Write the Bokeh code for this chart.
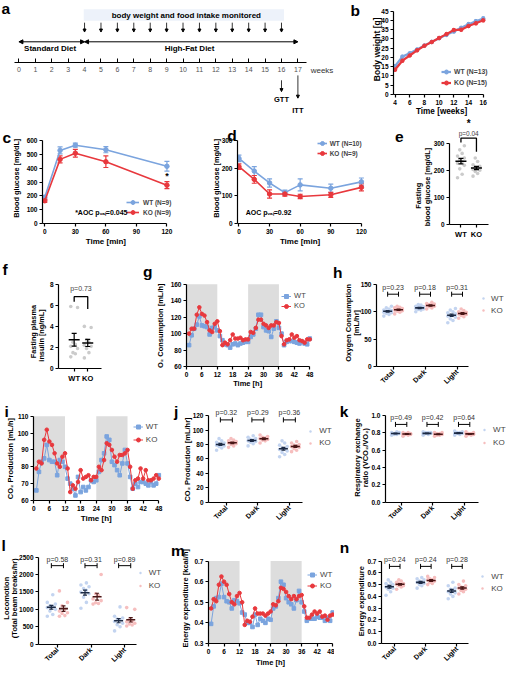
import math
import numpy as np
from bokeh.plotting import figure
from bokeh.models import (Range1d, FixedTicker, LinearAxis, Label, Legend, LegendItem, Whisker,
                          TeeHead, Arrow, NormalHead, ColumnDataSource, BoxAnnotation,
                          NumeralTickFormatter)
from bokeh.layouts import row, column
from bokeh.embed import file_html
from bokeh.resources import INLINE
from bokeh.core.properties import value

# ---------------- data ----------------
timeline_weeks = list(range(18))
monitor_weeks = list(range(4, 17))
diet_names = ["Standard Diet", "High-Fat Diet"]
diet_start = [0, 4]
diet_end = [4, 17]
test_names = ["GTT", "ITT"]
test_weeks = [16, 17]

bw_weeks = [4, 5, 6, 7, 8, 9, 10, 11, 12, 13, 14, 15, 16]
bw_wt = [15.2, 20.4, 22.2, 24.3, 26.4, 28.4, 30.4, 32.2, 34.0, 36.0, 38.0, 39.6, 41.0]
bw_wt_sem = [0.8, 0.6, 0.5, 0.5, 0.5, 0.5, 0.6, 0.6, 0.6, 0.7, 0.7, 0.8, 0.9]
bw_ko = [13.3, 18.2, 21.0, 23.8, 26.3, 28.3, 30.5, 32.6, 34.8, 35.0, 37.0, 38.5, 40.1]
bw_ko_sem = [0.7, 0.6, 0.5, 0.5, 0.5, 0.5, 0.6, 0.6, 0.7, 0.7, 0.7, 0.8, 0.8]

gtt_t = [0, 15, 30, 60, 120]
gtt_wt = [190, 530, 568, 535, 415]
gtt_wt_sem = [15, 25, 15, 22, 35]
gtt_ko = [165, 465, 510, 448, 278]
gtt_ko_sem = [12, 25, 28, 42, 25]

itt_t = [0, 15, 30, 45, 60, 90, 120]
itt_wt = [236, 190, 147, 112, 140, 128, 151]
itt_wt_sem = [12, 16, 15, 9, 22, 15, 14]
itt_ko = [206, 160, 107, 107, 98, 104, 131]
itt_ko_sem = [10, 14, 15, 8, 8, 9, 13]

fbg_wt = [172, 185, 205, 218, 226, 232, 238, 245, 252, 262, 275, 290]
fbg_ko = [178, 188, 195, 200, 203, 206, 210, 214, 220, 232, 245]

ins_wt = [1.1, 1.4, 1.5, 1.9, 2.1, 2.3, 2.5, 5.8, 5.9]
ins_ko = [1.0, 1.5, 1.9, 2.1, 2.2, 2.5, 2.7, 3.9, 4.0]

hours = list(range(1, 49))
dark_start = [0, 24]
dark_end = [12, 36]

o2_wt = [86, 98, 106, 111, 121, 110, 109, 108, 99, 107, 108, 104, 97, 92, 87, 86, 83, 87, 88, 86,
         88, 89, 90, 90, 96, 99, 106, 123, 123, 108, 104, 103, 96, 106, 115, 107, 100, 86, 90, 91,
         91, 90, 89, 88, 90, 88, 87, 94]
o2_ko = [100, 106, 106, 123, 132, 124, 122, 114, 104, 102, 112, 115, 103, 86, 89, 87, 92, 99, 94, 94,
         95, 92, 93, 93, 102, 101, 107, 117, 117, 112, 110, 107, 110, 110, 114, 113, 97, 87, 92, 93,
         99, 95, 97, 92, 91, 89, 93, 93]

co2_wt = [66, 77, 83, 85, 93, 84, 83, 83, 75, 84, 83, 80, 73, 70, 67, 63, 74, 65, 68, 66,
          68, 72, 71, 72, 77, 84, 88, 98, 96, 83, 81, 78, 75, 82, 90, 82, 74, 67, 70, 68,
          71, 71, 70, 69, 71, 69, 70, 75]
co2_ko = [79, 83, 82, 96, 102, 95, 93, 88, 82, 80, 86, 88, 79, 65, 69, 67, 71, 78, 73, 74,
          75, 72, 74, 74, 80, 78, 84, 94, 93, 90, 86, 83, 87, 87, 88, 90, 80, 67, 72, 73,
          79, 73, 78, 72, 72, 73, 75, 73]

ee_wt = [0.395, 0.48, 0.52, 0.525, 0.59, 0.525, 0.505, 0.50, 0.47, 0.51, 0.505, 0.495, 0.45, 0.44,
         0.40, 0.40, 0.38, 0.44, 0.39, 0.42, 0.41, 0.40, 0.42, 0.415, 0.47, 0.48, 0.52, 0.60, 0.585,
         0.52, 0.50, 0.49, 0.47, 0.51, 0.555, 0.50, 0.455, 0.41, 0.42, 0.42, 0.42, 0.43, 0.425,
         0.425, 0.41, 0.425, 0.41, 0.45]
ee_ko = [0.47, 0.515, 0.505, 0.585, 0.625, 0.60, 0.585, 0.54, 0.50, 0.49, 0.53, 0.545, 0.50, 0.39,
         0.41, 0.405, 0.43, 0.47, 0.445, 0.445, 0.445, 0.435, 0.445, 0.455, 0.49, 0.485, 0.505,
         0.57, 0.565, 0.55, 0.53, 0.515, 0.53, 0.515, 0.53, 0.535, 0.48, 0.425, 0.425, 0.44, 0.455,
         0.445, 0.455, 0.43, 0.435, 0.415, 0.435, 0.44]

phase_labels = ["Total", "Dark", "Light"]

vo2_wt = [[92, 95, 97, 98, 99, 100, 101, 102, 103, 105, 107, 110],
          [100, 103, 104, 105, 106, 107, 108, 109, 110, 112, 113],
          [80, 84, 87, 90, 92, 93, 94, 96, 98, 100, 103, 106]]
vo2_ko = [[96, 99, 101, 102, 103, 104, 105, 106, 107, 108, 110],
          [105, 107, 109, 110, 111, 112, 113, 114, 115, 117],
          [88, 91, 93, 95, 96, 97, 98, 99, 100, 102, 105]]
vo2_p = ["p=0.23", "p=0.18", "p=0.31"]

vco2_wt = [[72, 75, 77, 78, 79, 80, 81, 82, 83, 85, 88],
           [78, 81, 83, 84, 85, 86, 87, 88, 90, 92],
           [63, 66, 69, 71, 73, 74, 75, 77, 79, 82, 85]]
vco2_ko = [[76, 78, 80, 81, 82, 82, 83, 84, 85, 86, 88],
           [82, 85, 86, 87, 88, 89, 90, 91, 93],
           [70, 72, 74, 76, 77, 78, 79, 80, 82, 84]]
vco2_p = ["p=0.32", "p=0.29", "p=0.36"]

rer_wt = [[0.77, 0.78, 0.78, 0.79, 0.79, 0.79, 0.79, 0.80, 0.80, 0.81],
          [0.77, 0.78, 0.79, 0.79, 0.79, 0.80, 0.80, 0.80, 0.81],
          [0.77, 0.78, 0.79, 0.79, 0.79, 0.80, 0.80, 0.81, 0.82]]
rer_ko = [[0.76, 0.77, 0.78, 0.78, 0.78, 0.79, 0.79, 0.79, 0.80, 0.80],
          [0.76, 0.77, 0.77, 0.78, 0.78, 0.79, 0.79, 0.80, 0.80],
          [0.76, 0.77, 0.78, 0.78, 0.79, 0.79, 0.79, 0.80, 0.81]]
rer_p = ["p=0.49", "p=0.42", "p=0.64"]

loc_wt = [[800, 850, 950, 1000, 1050, 1080, 1100, 1150, 1200, 1420],
          [1030, 1200, 1350, 1450, 1500, 1550, 1600, 1650, 1700, 1760],
          [380, 500, 560, 600, 650, 700, 720, 750, 800, 1070]]
loc_ko = [[800, 820, 880, 900, 950, 1000, 1100, 1200, 1530],
          [1150, 1170, 1190, 1250, 1300, 1400, 1450, 2000],
          [520, 550, 580, 600, 640, 660, 700, 1000, 1050]]
loc_p = ["p=0.58", "p=0.31", "p=0.89"]

eex_wt = [[0.41, 0.44, 0.46, 0.47, 0.48, 0.48, 0.49, 0.50, 0.51, 0.52, 0.54],
          [0.47, 0.49, 0.50, 0.51, 0.52, 0.52, 0.53, 0.54, 0.55, 0.56],
          [0.38, 0.40, 0.42, 0.43, 0.44, 0.45, 0.46, 0.47, 0.49, 0.52]]
eex_ko = [[0.46, 0.48, 0.49, 0.49, 0.50, 0.50, 0.51, 0.51, 0.52, 0.53, 0.54],
          [0.50, 0.51, 0.52, 0.53, 0.54, 0.54, 0.55, 0.56, 0.57],
          [0.42, 0.44, 0.45, 0.46, 0.47, 0.47, 0.48, 0.49, 0.50, 0.53]]
eex_p = ["p=0.24", "p=0.24", "p=0.28"]

# ---------------- style / layout ----------------
PAGE_W, PAGE_H = 506, 669
REF_W, REF_H = 522, 685
SX = PAGE_W / REF_W
SY = PAGE_H / REF_H
ROWS = [(0, 120), (120, 258), (258, 406), (406, 546), (546, 685)]
FONT = "Liberation Sans"
WT_C = "#7ba4de"
KO_C = "#e8383d"
WT_PALE = "#bccfee"
KO_PALE = "#f5b7b7"
WT_DARK = "#1d2b45"
KO_DARK = "#4a1616"
GRAY_PT = "#cbcbcb"
SHADE = "#dddddd"
LETTER = 15.5
TICK = 6.5
ALAB = 7.5
A_X0, A_DX = 19.0, 16.93   # timeline: reference px of week 0, px per week


class Panel:
    def __init__(self, row_i, x0, x1, frame, xcal, ycal, xmin=None, ymin=None):
        y0, y1 = ROWS[row_i]
        fl, fr, ft, fb = frame
        L, R = round(x0 * SX), round(x1 * SX)
        T, B = round(y0 * SY), round(y1 * SY)
        FL, FR = round(fl * SX), round(fr * SX)
        FT, FB = round(ft * SY), round(fb * SY)
        self.FL, self.FB = FL, FB
        (a, xa), (b, xb) = xcal
        kx = (xb - xa) / (b - a)
        (c, yc), (d, yd) = ycal
        ky = (yd - yc) / (d - c)
        xs, xe = a + (FL / SX - xa) / kx, a + (FR / SX - xa) / kx
        ys, ye = c + (FB / SY - yc) / ky, c + (FT / SY - yc) / ky
        if xmin is not None:
            xs = min(xs, xmin - 1e-6 * abs(xe - xs))
        if ymin is not None:
            ys = min(ys, ymin - 1e-6 * abs(ye - ys))
        p = figure(width=R - L, height=B - T, x_range=Range1d(xs, xe), y_range=Range1d(ys, ye),
                   min_border_left=FL - L, min_border_right=R - FR,
                   min_border_top=FT - T, min_border_bottom=B - FB,
                   x_axis_type=None, y_axis_type=None,
                   output_backend="svg", toolbar_location=None)
        p.frame_align = False
        p.outline_line_color = None
        p.background_fill_color = "white"
        p.border_fill_color = "white"
        self.p = p

    def legend(self, items, gx, cy0, rh, gw, lx, size, bold):
        n = len(items)
        bottom = cy0 - rh / 2 + n * rh
        h = round(rh * SY)
        leg = Legend(items=[LegendItem(label=l, renderers=r) for l, r in items],
                     location=(gx * SX - self.FL, self.FB - bottom * SY),
                     padding=0, margin=0, spacing=0, border_line_color=None,
                     background_fill_alpha=0, glyph_width=round(gw * SX), glyph_height=h,
                     label_height=h, label_standoff=round((lx - gx - gw) * SX),
                     label_text_font=FONT, label_text_font_size=f"{size}px",
                     label_text_font_style="bold" if bold else "normal")
        self.p.add_layout(leg)


def style_axis(ax, size=TICK, bold=True, color="black"):
    ax.axis_line_width = 1.2
    ax.axis_line_color = "black"
    ax.major_tick_line_width = 1.2
    ax.major_tick_line_color = "black"
    ax.major_tick_out = 3
    ax.major_tick_in = 0
    ax.minor_tick_line_color = None
    ax.major_label_text_font = FONT
    ax.major_label_text_font_size = f"{size}px"
    ax.major_label_text_font_style = "bold" if bold else "normal"
    ax.major_label_text_color = color
    ax.major_label_standoff = 2


def x_axis(P, ticks, end=None, labels=None, rotate=False, size=TICK, start=None):
    ax = LinearAxis(ticker=FixedTicker(ticks=ticks))
    style_axis(ax, size)
    if end is not None:
        ax.bounds = (P.p.x_range.start if start is None else start, end)
    if labels is not None:
        ax.major_label_overrides = {t: l for t, l in zip(ticks, labels)}
    if rotate:
        ax.major_label_orientation = math.pi / 4
        ax.major_label_standoff = 1
    P.p.add_layout(ax, "below")


def y_axis(P, ticks, end, fmt=None, size=TICK):
    ax = LinearAxis(ticker=FixedTicker(ticks=ticks))
    style_axis(ax, size)
    ax.bounds = (P.p.y_range.start, end)
    if fmt:
        ax.formatter = NumeralTickFormatter(format=fmt)
    P.p.add_layout(ax, "left")


def whisker(P, x, lo, hi, color, head, lw=1.2, level="underlay"):
    src = ColumnDataSource(dict(x=x, l=lo, u=hi))
    P.p.add_layout(Whisker(source=src, base="x", lower="l", upper="u", line_color=color,
                           line_width=lw, level=level,
                           upper_head=TeeHead(size=head, line_color=color, line_width=lw),
                           lower_head=TeeHead(size=head, line_color=color, line_width=lw)))


def curve(P, x, m, s, color, lw, size, head):
    whisker(P, x, [a - b for a, b in zip(m, s)], [a + b for a, b in zip(m, s)], color, head)
    r1 = P.p.line(x, m, color=color, line_width=lw)
    r2 = P.p.scatter(x, m, marker="circle", size=size, color=color)
    return [r1, r2]


def series(P, x, y, color, marker):
    r1 = P.p.line(x, y, color=color, line_width=1)
    r2 = P.p.scatter(x, y, marker=marker, size=3.6, color=color)
    return [r1, r2]


def shade(P, lo, hi):
    for a, b in zip(dark_start, dark_end):
        P.p.add_layout(BoxAnnotation(left=a, right=b, bottom=lo, top=hi, fill_color=SHADE,
                                     fill_alpha=1, line_color=None, level="underlay"))


def swarm(vals, w):
    pattern = [-1.0, 0.35, -0.35, 1.0]
    order = np.argsort(vals, kind="stable")
    offs = np.zeros(len(vals))
    for rank, i in enumerate(order):
        offs[i] = w * pattern[rank % 4]
    return offs


def stats(v):
    v = np.asarray(v, dtype=float)
    return float(v.mean()), float(v.std(ddof=1) / math.sqrt(len(v)))


def dotplot(P, wt, ko, off, w, dash, head):
    rends = []
    for sign, groups, pc, dc in [(-1, wt, WT_PALE, WT_DARK), (1, ko, KO_PALE, KO_DARK)]:
        xs, ys = [], []
        for g, vals in enumerate(groups):
            xs += [g + sign * off + o for o in swarm(vals, w)]
            ys += list(vals)
        r = P.p.scatter(xs, ys, size=3.6, color=pc, alpha=0.9, line_color=None)
        rends.append(r)
        mx = [g + sign * off for g in range(len(groups))]
        st = [stats(v) for v in groups]
        whisker(P, mx, [m - s for m, s in st], [m + s for m, s in st], dc, head, lw=1.2,
                level="overlay")
        P.p.scatter(mx, [m for m, s in st], marker="dash", size=dash, line_width=1.6, color=dc)
    return rends


def brackets(P, n, off, yb, yp, ptexts):
    src = ColumnDataSource(dict(y=[yb] * n, a=[g - off for g in range(n)],
                                b=[g + off for g in range(n)]))
    P.p.add_layout(Whisker(source=src, dimension="width", base="y", lower="a", upper="b",
                           line_color="black", line_width=1, level="overlay",
                           upper_head=TeeHead(size=5, line_color="black", line_width=1),
                           lower_head=TeeHead(size=5, line_color="black", line_width=1)))
    P.p.text(x=list(range(n)), y=[yp] * n, text=ptexts, text_align="center",
             text_baseline="middle", text_font=value(FONT), text_font_size="7px",
             text_color="#333333")


def dot_pair(P, wt, ko, w):
    for g, vals in enumerate([wt, ko]):
        P.p.scatter([g + o for o in swarm(vals, w)], vals, size=3.6, color=GRAY_PT,
                    line_color=None)
    st = [stats(wt), stats(ko)]
    whisker(P, [0, 1], [m - s for m, s in st], [m + s for m, s in st], "black", 5,
            level="overlay")
    P.p.scatter([0, 1], [m for m, s in st], marker="dash", size=11, line_width=1.5,
                color="black")


# ---------------- overlay (letters, axis titles, free texts) ----------------
ov = figure(width=PAGE_W, height=PAGE_H, x_range=Range1d(0, REF_W), y_range=Range1d(REF_H, 0),
            min_border=0, min_border_left=0, min_border_right=0, min_border_top=0,
            min_border_bottom=0, x_axis_type=None, y_axis_type=None,
            output_backend="svg", toolbar_location=None)
ov.frame_align = False
ov.outline_line_color = None
ov.background_fill_alpha = 0
ov.border_fill_alpha = 0
ov.margin = (-PAGE_H, 0, 0, 0)
ov.styles = {"margin-top": f"-{PAGE_H}px"}


def otext(s, x, y, size, bold=True, angle=0.0, align="center", baseline="middle",
          color="black"):
    ov.add_layout(Label(x=x, y=y, text=s, text_font=FONT, text_font_size=f"{size}px",
                        text_font_style="bold" if bold else "normal", text_color=color,
                        angle=angle, text_align=align, text_baseline=baseline))


def oy(s, x, y, size=ALAB):
    otext(s, x, y, size, angle=math.pi / 2)


def letter(ch, x, y):
    otext(ch, x, y, LETTER, align="left", baseline="alphabetic")


# ---------------- panel a: timeline ----------------
Pa = Panel(0, 0, 358, (0, 358, 0, 63.3), ((0, A_X0), (17, A_X0 + 17 * A_DX)), ((0, 0), (63.3, 63.3)))
pa = Pa.p
pa.quad(left=[monitor_weeks[0] - 0.05], right=[monitor_weeks[-1] + 0.15], top=[9], bottom=[20.7],
        color="#edf2fa", line_color=None)
pa.text(x=[(monitor_weeks[0] + monitor_weeks[-1]) / 2 + 0.2], y=[15],
        text=["body weight and food intake monitored"], text_align="center",
        text_baseline="middle", text_font=value(FONT), text_font_size="8px",
        text_font_style="bold")
msrc = ColumnDataSource(dict(x=monitor_weeks, y0=[22.7] * len(monitor_weeks),
                             y1=[32.3] * len(monitor_weeks)))
pa.add_layout(Arrow(source=msrc, x_start="x", y_start="y0", x_end="x", y_end="y1",
                    line_width=0.8, end=NormalHead(size=3, fill_color="black", line_color="black")))
for s, e in zip(diet_start, diet_end):
    pa.add_layout(Arrow(x_start=s, y_start=42.3, x_end=e, y_end=42.3, line_width=1,
                        start=NormalHead(size=4, fill_color="black", line_color="black"),
                        end=NormalHead(size=4, fill_color="black", line_color="black")))
pa.text(x=[(s + e) / 2 - 0.1 for s, e in zip(diet_start, diet_end)], y=[49.5] * 2, text=diet_names,
        text_align="center", text_baseline="middle", text_font=value(FONT),
        text_font_size="8px", text_font_style="bold")
tax = LinearAxis(ticker=FixedTicker(ticks=timeline_weeks), bounds=(-0.24, 17.5))
style_axis(tax, 7, bold=False, color="#555555")
tax.axis_line_width = 1
tax.major_tick_line_width = 1
tax.major_tick_in = 4
tax.major_tick_out = 0
tax.major_label_standoff = 4
pa.add_layout(tax, "below")
otext("weeks", 320, 71.7, 8, bold=False, align="left", color="#333333")
ov.add_layout(Arrow(source=ColumnDataSource(dict(
    x=[A_X0 + A_DX * w for w in test_weeks], y0=[81.7, 76.7], y1=[93.3, 100.0])),
    x_start="x", y_start="y0", x_end="x", y_end="y1", line_width=0.8,
    end=NormalHead(size=3, fill_color="black", line_color="black")))
for nm, w, yy in zip(test_names, test_weeks, [101.7, 112.5]):
    otext(nm, A_X0 + A_DX * w, yy, 7.5)
letter("a", 1, 8)

# ---------------- panel b ----------------
Pb = Panel(0, 358, 522, (405, 522, 0, 96), ((4, 407), (16, 498)), ((0, 96), (45, 11)), ymin=0)
x_axis(Pb, list(range(4, 17, 2)), end=16)
y_axis(Pb, list(range(0, 46, 5)), 45)
rb_wt = curve(Pb, bw_weeks, bw_wt, bw_wt_sem, WT_C, 2.2, 3.6, 3)
rb_ko = curve(Pb, bw_weeks, bw_ko, bw_ko_sem, KO_C, 2.2, 3.6, 3)
Pb.legend([("WT (N=13)", rb_wt), ("KO (N=15)", rb_ko)], 455, 72.7, 11.3, 10, 468.3, 6.8, True)
oy("Body weight [g]", 388.3, 50, 8.5)
otext("Time [weeks]", 455, 113.3, 8.2)
letter("b", 361, 10)

# ---------------- panel c ----------------
Pc = Panel(1, 0, 215, (43.6, 215, 120, 228.7), ((0, 45.7), (120, 171.7)), ((0, 228.7), (600, 143.7)),
           ymin=0)
x_axis(Pc, [0, 30, 60, 90, 120], end=120)
y_axis(Pc, list(range(0, 601, 100)), 600)
rc_wt = curve(Pc, gtt_t, gtt_wt, gtt_wt_sem, WT_C, 1.6, 4.5, 5)
rc_ko = curve(Pc, gtt_t, gtt_ko, gtt_ko_sem, KO_C, 1.6, 4.5, 5)
Pc.legend([("WT (N=9)", rc_wt), ("KO (N=9)", rc_ko)], 130, 207.3, 10, 13, 147, 6.5, True)
Pc.p.text(x=[gtt_t[-1]], y=[gtt_ko[-1] + gtt_ko_sem[-1] + 40], text=["*"], text_align="center",
          text_baseline="middle", text_font=value(FONT), text_font_size="9px",
          text_font_style="bold")
otext("*AOC p\u1d65\u2090\u2097=0.045", 77, 217.3, 7, align="left")
oy("Blood glucose [mg/dL]", 16.7, 182, 7.3)
otext("Time [min]", 108.7, 246.7, 8)
letter("c", 2, 140)

# ---------------- panel d ----------------
Pd = Panel(1, 215, 400, (244, 400, 120, 228.7), ((0, 246), (120, 372.3)), ((0, 228.7), (300, 143.7)),
           ymin=0)
x_axis(Pd, [0, 30, 60, 90, 120], end=120)
y_axis(Pd, [0, 100, 200, 300], 300)
rd_wt = curve(Pd, itt_t, itt_wt, itt_wt_sem, WT_C, 1.6, 4.5, 5)
rd_ko = curve(Pd, itt_t, itt_ko, itt_ko_sem, KO_C, 1.6, 4.5, 5)
Pd.legend([("WT (N=10)", rd_wt), ("KO (N=9)", rd_ko)], 326.7, 146, 10.7, 10, 340, 6.5, True)
otext("AOC p\u1d65\u2090\u2097=0.92", 253, 217.3, 7, align="left")
oy("Blood glucose [mg/dL]", 223.3, 182, 7.3)
otext("Time [min]", 309, 246.7, 8)
letter("d", 234, 138.5)

# ---------------- panel e ----------------
Pe = Panel(1, 400, 522, (463.3, 522, 120, 229.3), ((0, 475), (1, 491)), ((0, 229.3), (300, 146)),
           ymin=0)
x_axis(Pe, [0, 1], end=1.75, labels=["WT", "KO"], size=7.5)
y_axis(Pe, [0, 100, 200, 300], 300)
dot_pair(Pe, fbg_wt, fbg_ko, 0.22)
Pe.p.line(x=[0, 0, 1, 1], y=[302, 318, 318, 268], color="black", line_width=1.3)
Pe.p.text(x=[0.5], y=[337], text=["p=0.04"], text_align="center", text_baseline="middle",
          text_font=value(FONT), text_font_size="6.5px", text_color="#444444")
Pe.p.text(x=[0.5], y=[372], text=["*"], text_align="center", text_baseline="middle",
          text_font=value(FONT), text_font_size="10px", text_font_style="bold")
oy("Fasting", 431.7, 200, 7.3)
oy("blood glucose [mg/dL]", 440, 191, 7.3)
letter("e", 407, 140)

# ---------------- panel f ----------------
Pf = Panel(2, 0, 145, (60, 145, 258, 376.7), ((0, 76), (1, 90)), ((0, 376.7), (8, 290.7)), ymin=0)
x_axis(Pf, [0, 1], end=2.0, labels=["WT", "KO"], size=7.5)
y_axis(Pf, [0, 2, 4, 6, 8], 8)
dot_pair(Pf, ins_wt, ins_ko, 0.25)
Pf.p.line(x=[0, 0, 1, 1], y=[6.36, 6.83, 6.83, 5.65], color="black", line_width=1.3)
Pf.p.text(x=[0.5], y=[7.6], text=["p=0.73"], text_align="center", text_baseline="middle",
          text_font=value(FONT), text_font_size="7px", text_color="#444444")
oy("Fasting plasma", 34, 339, 7.3)
oy("insulin [ng/mL]", 42.5, 343, 7.3)
letter("f", 2, 275)

# ---------------- panel g ----------------
Pg = Panel(2, 145, 340, (191.7, 340, 258, 375), ((0, 191.7), (48, 319)), ((60, 375), (160, 290.7)),
           xmin=0, ymin=60)
shade(Pg, 60, 160)
x_axis(Pg, list(range(0, 49, 6)), end=48)
y_axis(Pg, list(range(60, 161, 20)), 160)
rg_wt = series(Pg, hours, o2_wt, WT_C, "square")
rg_ko = series(Pg, hours, o2_ko, KO_C, "circle")
Pg.legend([("WT", rg_wt), ("KO", rg_ko)], 290, 303.3, 10, 10, 303.3, 7.5, False)
oy("O\u2082 Consumption [mL/h]", 165.5, 333)
otext("Time [h]", 255, 391.7, ALAB)
letter("g", 147, 277)

# ---------------- panel h ----------------
Ph = Panel(2, 340, 522, (388.3, 522, 258, 375), ((0, 405), (1, 438)), ((0, 375), (150, 290.7)), ymin=0)
x_axis(Ph, [0, 1, 2], end=2.36, labels=phase_labels, rotate=True, size=7)
y_axis(Ph, [0, 50, 100, 150], 150)
rh = dotplot(Ph, vo2_wt, vo2_ko, 0.17, 0.12, 9, 4)
brackets(Ph, 3, 0.17, 132, 144, vo2_p)
Ph.legend([("WT", [rh[0]]), ("KO", [rh[1]])], 495.3, 305, 12.7, 6, 506.7, 8, False)
oy("Oxygen Consumption", 359, 330)
oy("[mL/hr]", 367.5, 330)
letter("h", 343, 278.5)

# ---------------- panel i ----------------
Pi = Panel(3, 0, 172, (34.3, 172, 406, 512), ((0, 34.3), (48, 163.3)), ((60, 512), (110, 425.7)),
           xmin=0, ymin=60)
shade(Pi, 60, 110)
x_axis(Pi, list(range(0, 49, 6)), end=48)
y_axis(Pi, list(range(60, 111, 10)), 110)
ri_wt = series(Pi, hours, co2_wt, WT_C, "square")
ri_ko = series(Pi, hours, co2_ko, KO_C, "circle")
Pi.legend([("WT", ri_wt), ("KO", ri_ko)], 137, 436.7, 13.3, 10, 150, 8, False)
oy("CO\u2082 Production [mL/h]", 10, 469)
otext("Time [h]", 98.8, 530, 8)
letter("i", 4, 421)

# ---------------- panel j ----------------
Pj = Panel(3, 172, 347, (215, 347, 406, 513.7), ((0, 233), (1, 265.5)), ((0, 513.7), (120, 425)),
           ymin=0)
x_axis(Pj, [0, 1, 2], end=2.43, labels=phase_labels, rotate=True, size=7)
y_axis(Pj, list(range(0, 121, 20)), 120)
rj = dotplot(Pj, vco2_wt, vco2_ko, 0.19, 0.12, 9, 4)
brackets(Pj, 3, 0.19, 114, 124, vco2_p)
Pj.legend([("WT", [rj[0]]), ("KO", [rj[1]])], 317, 440.7, 12.6, 6, 329.3, 8, False)
oy("CO\u2082 Production [mL/hr]", 192.7, 470)
letter("j", 179, 421)

# ---------------- panel k ----------------
Pk = Panel(3, 347, 522, (396.7, 522, 406, 513.7), ((0, 413.3), (1, 445.8)), ((0, 513.7), (1, 424.7)),
           ymin=0)
x_axis(Pk, [0, 1, 2], end=2.45, labels=phase_labels, rotate=True, size=7)
y_axis(Pk, [0, 0.2, 0.4, 0.6, 0.8, 1.0], 1.0, fmt="0.0")
rk = dotplot(Pk, rer_wt, rer_ko, 0.18, 0.12, 9, 4)
brackets(Pk, 3, 0.18, 0.895, 0.978, rer_p)
Pk.legend([("WT", [rk[0]]), ("KO", [rk[1]])], 496.3, 440, 13.3, 6, 508.3, 8, False)
oy("Respiratory exchange", 368.3, 468)
oy("ratio (VCO\u2082/VO\u2082)", 377, 468)
letter("k", 350, 421)

# ---------------- panel l ----------------
Pl = Panel(4, 0, 172, (39.3, 172, 546, 659), ((0, 58.7), (1, 93.4)), ((0, 659), (2500, 570)), ymin=0)
x_axis(Pl, [0, 1, 2], end=2.34, labels=phase_labels, rotate=True, size=7)
y_axis(Pl, list(range(0, 2501, 500)), 2500)
rl = dotplot(Pl, loc_wt, loc_ko, 0.18, 0.12, 9, 4)
brackets(Pl, 3, 0.18, 2256, 2425, loc_p)
Pl.legend([("WT", [rl[0]]), ("KO", [rl[1]])], 141, 586.7, 13.3, 6, 153.3, 8, False)
oy("Locomotion", 6.7, 612)
oy("(Total beam breaks/hr)", 14.5, 612)
letter("l", 1, 558)

# ---------------- panel m ----------------
Pm = Panel(4, 172, 345, (214.3, 345, 546, 658.3), ((0, 214.3), (48, 342.7)), ((0.3, 658.3), (0.7, 574)),
           xmin=0, ymin=0.3)
shade(Pm, 0.3, 0.7)
x_axis(Pm, list(range(0, 49, 6)), end=48)
y_axis(Pm, [0.3, 0.4, 0.5, 0.6, 0.7], 0.7, fmt="0.0")
rm_wt = series(Pm, hours, ee_wt, WT_C, "square")
rm_ko = series(Pm, hours, ee_ko, KO_C, "circle")
Pm.legend([("WT", rm_wt), ("KO", rm_ko)], 316.7, 588.3, 11, 10, 330, 8, False)
oy("Energy expenditure [kcal/h]", 191, 612)
otext("Time [h]", 278.5, 677.7, ALAB)
letter("m", 176, 563)

# ---------------- panel n ----------------
Pn = Panel(4, 345, 522, (392.7, 522, 546, 658.3), ((0, 406.7), (1, 438.8)), ((0, 658.3), (0.7, 574)),
           ymin=0)
x_axis(Pn, [0, 1, 2], end=2.38, labels=phase_labels, rotate=True, size=7)
y_axis(Pn, [0, 0.1, 0.2, 0.3, 0.4, 0.5, 0.6, 0.7], 0.7, fmt="0.0")
rn = dotplot(Pn, eex_wt, eex_ko, 0.17, 0.11, 9, 4)
brackets(Pn, 3, 0.17, 0.655, 0.711, eex_p)
Pn.legend([("WT", [rn[0]]), ("KO", [rn[1]])], 494.3, 590.7, 12, 6, 506.7, 8, False)
oy("Energy expenditure", 372.7, 615)
letter("n", 350, 560)

layout = column(
    row(Pa.p, Pb.p),
    row(Pc.p, Pd.p, Pe.p),
    row(Pf.p, Pg.p, Ph.p),
    row(Pi.p, Pj.p, Pk.p),
    row(Pl.p, Pm.p, Pn.p),
    ov,
)

open("out.html", "w").write(file_html(layout, INLINE))
